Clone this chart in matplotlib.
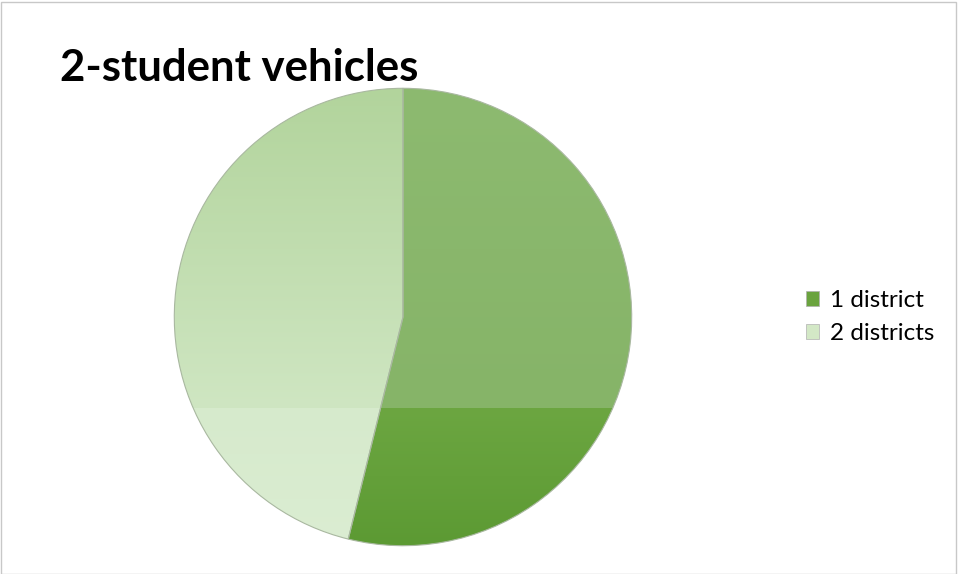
import numpy as np
import matplotlib
matplotlib.use('Agg')
import matplotlib.pyplot as plt
from matplotlib.colors import LinearSegmentedColormap
from matplotlib.patches import Rectangle, Patch

# Data
labels = ['1 district', '2 districts']
counts = [7, 6]
title = '2-student vehicles'

# colours (top -> bottom of the gradient fill)
grad_1 = ['#8dba70', '#86b468', '#6ca641', '#5c9a33']
grad_2 = ['#b2d49c', '#cfe6c2', '#d6eacc', '#dbedd2']
legend_colors = ['#6aa33e', '#d3e8c6']

plt.rcParams['font.family'] = ['Lato', 'DejaVu Sans']

W, H = 959, 574
fig = plt.figure(figsize=(W / 100, H / 100), dpi=100)

# pie axes placed in pixels: centre (403, 317), radius 231
cx, cy, r = 403, 317, 231
ax = fig.add_axes([(cx - r) / W, (H - cy - r) / H, 2 * r / W, 2 * r / H])

wedges, _ = ax.pie(counts, colors=legend_colors, startangle=90, counterclock=False,
                   radius=1, wedgeprops=dict(edgecolor='#a9b8a0', linewidth=0.8))

# gradient fills clipped to each wedge
yy = np.linspace(0, 1, 600).reshape(-1, 1)
stops = [0.0, 0.70, 0.701, 1.0]
for w, g in zip(wedges, [grad_1, grad_2]):
    cmap = LinearSegmentedColormap.from_list('g', list(zip(stops, g)))
    img = ax.imshow(yy, cmap=cmap, vmin=0, vmax=1, extent=[-1, 1, -1, 1],
                    aspect='auto', zorder=1, origin='upper', interpolation='nearest')
    img.set_clip_path(w)
for w in wedges:
    w.set_zorder(3)
    w.set_facecolor('none')

ax.set_xlim(-1.01, 1.01)
ax.set_ylim(-1.01, 1.01)
ax.set_aspect('equal')
ax.axis('off')

fig.text(60 / W, 1 - 81 / H, title, fontsize=31.5, fontweight='bold',
         ha='left', va='baseline', color='#000000')

handles = [Patch(facecolor=c, edgecolor='#b0b0b0', linewidth=0.5) for c in legend_colors]
fig.legend(handles, labels, loc='center left', bbox_to_anchor=(806 / W, 1 - 317 / H),
           frameon=False, fontsize=17.5, handlelength=0.55, handleheight=0.55,
           handletextpad=0.45, labelspacing=0.5, borderpad=0, borderaxespad=0)

fig.add_artist(Rectangle((0.5 / W, 0.5 / H), 1 - 4 / W, 1 - 2 / H, transform=fig.transFigure,
                         fill=False, edgecolor='#c8c8c8', linewidth=1))

fig.savefig('out.png', dpi=100)
